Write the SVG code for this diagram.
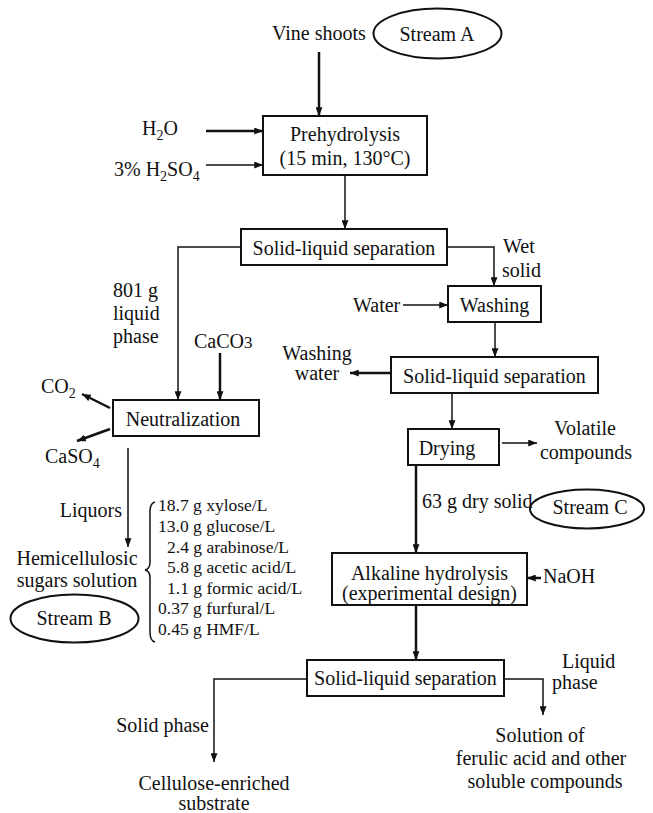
<svg xmlns="http://www.w3.org/2000/svg" width="653" height="813" viewBox="0 0 653 813">
<defs>
<style>
text{font-family:"Liberation Serif","Times New Roman",serif;font-size:20px;fill:#111}
.m{text-anchor:middle}
.e{text-anchor:end}
.sm{font-size:17.5px}
.box{fill:#fff;stroke:#111;stroke-width:2}
.ell{fill:none;stroke:#111;stroke-width:2}
.c{fill:none;stroke:#111;stroke-width:1.5}
.t{fill:none;stroke:#111;stroke-width:2.5}
.a{marker-end:url(#ah)}
</style>
<marker id="ah" viewBox="0 0 10 8" refX="10" refY="4" markerWidth="9" markerHeight="7" markerUnits="userSpaceOnUse" orient="auto">
<path d="M0,0 L10,4 L0,8 Z" fill="#111"/>
</marker>
</defs>
<rect width="653" height="813" fill="#fff"/>

<g id="connectors">
<line class="t a" x1="319" y1="52" x2="319" y2="116"/>
<line class="t a" x1="206" y1="131" x2="263" y2="131"/>
<line class="c a" x1="206" y1="165" x2="263" y2="165"/>
<line class="c a" x1="345" y1="175" x2="345" y2="229"/>
<path class="c a" d="M241,247 H178 V400"/>
<line class="t a" x1="220" y1="353" x2="220" y2="400"/>
<line class="t a" x1="110" y1="408" x2="82" y2="394"/>
<line class="t a" x1="110" y1="429" x2="77" y2="441"/>
<line class="c a" x1="128" y1="448" x2="128" y2="547"/>
<path class="c a" d="M447,247 H494 V286"/>
<line class="c a" x1="403" y1="305" x2="448" y2="305"/>
<line class="c a" x1="495" y1="322" x2="495" y2="357"/>
<line class="t a" x1="391" y1="373" x2="350" y2="373"/>
<line class="c a" x1="452" y1="393" x2="452" y2="429"/>
<line class="c a" x1="502" y1="443" x2="537" y2="443"/>
<line class="t a" x1="416" y1="465" x2="416" y2="553"/>
<line class="t a" x1="541" y1="578" x2="527" y2="578"/>
<line class="t a" x1="416" y1="605" x2="416" y2="660"/>
<path class="c a" d="M307,679 H214 V762"/>
<path class="c a" d="M504,679 H543 V715"/>
<path class="c" d="M155,502 Q150,503 150,512 V562 Q150,569 145,570 Q150,571 150,578 V632 Q150,641 155,642"/>
</g>

<g id="vine-shoots"><text x="272" y="40">Vine shoots</text></g>
<g id="stream-a"><ellipse class="ell" cx="437.5" cy="33.5" rx="64" ry="25"/><text class="m" x="437" y="41">Stream A</text></g>
<g id="h2o"><text x="142" y="135">H<tspan font-size="14" dy="5">2</tspan><tspan dy="-5">O</tspan></text></g>
<g id="h2so4"><text x="114" y="176">3% H<tspan font-size="14" dy="5">2</tspan><tspan dy="-5">SO</tspan><tspan font-size="14" dy="5">4</tspan></text></g>
<g id="prehydrolysis"><rect class="box" x="263" y="116" width="164" height="59"/><text class="m" x="345" y="141">Prehydrolysis</text><text class="m" x="345" y="165">(15 min, 130°C)</text></g>
<g id="sep1"><rect class="box" x="241" y="229" width="206" height="36"/><text class="m" x="344" y="255">Solid-liquid separation</text></g>
<g id="liquid-phase"><text x="113" y="297">801 g</text><text x="113" y="320">liquid</text><text x="113" y="343">phase</text></g>
<g id="caco3"><text x="194" y="348">CaCO<tspan font-size="17">3</tspan></text></g>
<g id="co2"><text x="41" y="393">CO<tspan font-size="14" dy="5">2</tspan></text></g>
<g id="caso4"><text x="45" y="463">CaSO<tspan font-size="14" dy="5">4</tspan></text></g>
<g id="neutralization"><rect class="box" x="113" y="400" width="146" height="36"/><text class="m" x="183" y="426">Neutralization</text></g>
<g id="liquors"><text class="e" x="122" y="517">Liquors</text></g>
<g id="hemicellulosic"><text class="m" x="77" y="565">Hemicellulosic</text><text class="m" x="77" y="587">sugars solution</text></g>
<g id="stream-b"><ellipse class="ell" cx="74.5" cy="618.5" rx="64" ry="24"/><text class="m" x="74" y="625">Stream B</text></g>
<g id="composition" class="sm">
<text class="sm" x="158" y="511">18.7 g xylose/L</text>
<text class="sm" x="158" y="532">13.0 g glucose/L</text>
<text class="sm" x="167" y="553">2.4 g arabinose/L</text>
<text class="sm" x="167" y="573">5.8 g acetic acid/L</text>
<text class="sm" x="167" y="594">1.1 g formic acid/L</text>
<text class="sm" x="158" y="614">0.37 g furfural/L</text>
<text class="sm" x="158" y="635">0.45 g HMF/L</text>
</g>
<g id="wet-solid"><text x="503" y="253">Wet</text><text x="502" y="277">solid</text></g>
<g id="water"><text x="353" y="312">Water</text></g>
<g id="washing"><rect class="box" x="448" y="286" width="93" height="36"/><text class="m" x="494.5" y="312">Washing</text></g>
<g id="sep2"><rect class="box" x="391" y="357" width="207" height="36"/><text class="m" x="494.5" y="383">Solid-liquid separation</text></g>
<g id="washing-water"><text class="m" x="317" y="360">Washing</text><text class="m" x="317" y="380">water</text></g>
<g id="drying"><rect class="box" x="408" y="429" width="91" height="36"/><text class="m" x="447" y="455">Drying</text></g>
<g id="volatile"><text class="m" x="585" y="435">Volatile</text><text class="m" x="586" y="459">compounds</text></g>
<g id="dry-solid"><text x="422" y="508">63 g dry solid</text></g>
<g id="stream-c"><ellipse class="ell" cx="587" cy="509" rx="57" ry="19.5"/><text class="m" x="590" y="514">Stream C</text></g>
<g id="alkaline"><rect class="box" x="332" y="553" width="195" height="52"/><text class="m" x="429.5" y="580">Alkaline hydrolysis</text><text class="m" x="429.5" y="600">(experimental design)</text></g>
<g id="naoh"><text x="543" y="583">NaOH</text></g>
<g id="sep3"><rect class="box" x="307" y="660" width="197" height="36"/><text class="m" x="405.5" y="685">Solid-liquid separation</text></g>
<g id="solid-phase"><text class="e" x="209" y="732">Solid phase</text></g>
<g id="cellulose"><text class="m" x="214" y="790">Cellulose-enriched</text><text class="m" x="214" y="810">substrate</text></g>
<g id="liquid-phase2"><text x="562" y="668">Liquid</text><text x="552" y="689">phase</text></g>
<g id="solution"><text class="m" x="540" y="742">Solution of</text><text class="m" x="541" y="765">ferulic acid and other</text><text class="m" x="545" y="788">soluble compounds</text></g>
</svg>
